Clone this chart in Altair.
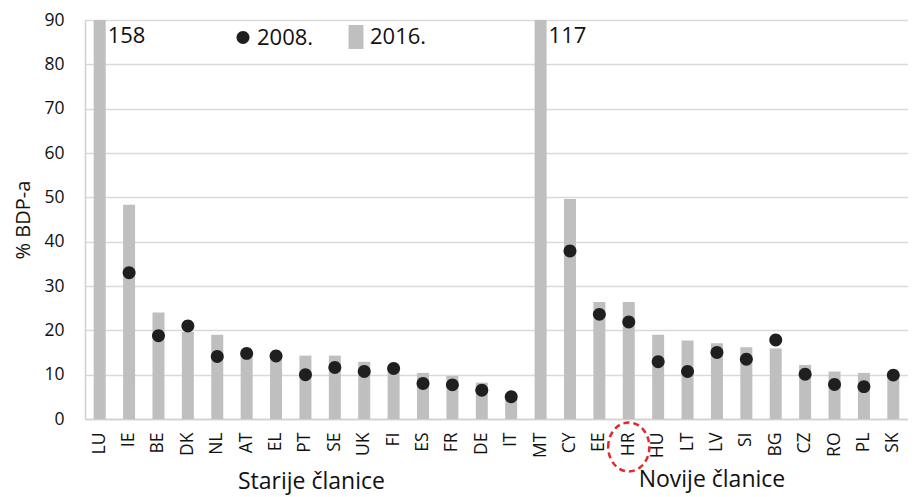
import altair as alt
import pandas as pd

countries = ["LU", "IE", "BE", "DK", "NL", "AT", "EL", "PT", "SE", "UK", "FI", "ES", "FR", "DE", "IT",
             "MT", "CY", "EE", "HR", "HU", "LT", "LV", "SI", "BG", "CZ", "RO", "PL", "SK"]
v2016 = [158, 48.3, 24.0, 19.7, 19.0, 14.5, 13.9, 14.3, 14.3, 12.9, 11.2, 10.4, 9.7, 8.2, 4.6,
         117, 49.6, 26.4, 26.4, 19.0, 17.7, 17.1, 16.2, 15.9, 12.2, 10.7, 10.4, 9.9]
v2008 = [None, 33.0, 18.8, 21.0, 14.1, 14.8, 14.2, 10.0, 11.6, 10.7, 11.4, 8.0, 7.7, 6.5, 5.0,
         None, 37.9, 23.6, 21.9, 12.9, 10.7, 15.0, 13.5, 17.8, 10.1, 7.8, 7.3, 9.9]
series = ["2008.", "2016."]
groups = ["Starije članice", "Novije članice"]
highlight = ["HR"]

FONT = "Open Sans"
CIRCLE = "M-0.54,0A0.54,0.54,0,1,0,0.54,0A0.54,0.54,0,1,0,-0.54,0Z"
RECT = "M-0.62,-1H0.62V1H-0.62Z"
ELLIPSE = "M-0.84,0A0.84,1,0,1,1,0.84,0A0.84,1,0,1,1,-0.84,0Z"

bars = pd.DataFrame({"country": countries, "v2016": v2016})
dots = pd.DataFrame({"country": countries, "v2008": v2008, "series": series[0]}).dropna()

xenc = alt.X("country:N", sort=countries, scale=alt.Scale(domain=countries, paddingInner=0.0, paddingOuter=0.0),
             axis=alt.Axis(title=None, labelAngle=-90, ticks=False, labelPadding=13, labelFont=FONT,
                           labelFontSize=17.5, labelColor="#111111", domainColor="#d0d0d0", domainWidth=1.5,
                           grid=False))
yscale = alt.Scale(domain=[0, 90], nice=False)

bar_layer = alt.Chart(bars).mark_bar(color="#bfbfbf", size=12, clip=True).encode(
    x=xenc,
    y=alt.Y("v2016:Q", scale=yscale,
            axis=alt.Axis(title="% BDP-a", values=list(range(0, 91, 10)), ticks=False, labelPadding=21,
                          labelFont=FONT, labelFontSize=17.5, labelColor="#111111", titleFont=FONT,
                          titleFontSize=20, titleFontWeight="normal", titleColor="#111111", titlePadding=10,
                          domainColor="#d0d0d0", domainWidth=1.5, gridColor="#d9d9d9", gridWidth=1.5)),
)

legend = alt.Legend(title=None, orient="none", legendX=146, legendY=5, direction="horizontal", columns=2,
                    symbolSize=576, labelFont=FONT, labelFontSize=22, labelColor="#111111",
                    symbolStrokeWidth=0, columnPadding=30, labelOffset=2, padding=0)

dot_layer = alt.Chart(dots).mark_point(filled=True, opacity=1, size=576).encode(
    x=alt.X("country:N", sort=countries),
    y=alt.Y("v2008:Q", scale=yscale),
    color=alt.Color("series:N", scale=alt.Scale(domain=series, range=["#1f1f1f", "#bfbfbf"]), legend=legend),
    shape=alt.Shape("series:N", scale=alt.Scale(domain=series, range=[CIRCLE, RECT]), legend=legend),
)

big = alt.Chart(bars).transform_filter("datum.v2016 > 90").mark_text(
    align="left", baseline="alphabetic", dx=8, font=FONT, fontSize=22, color="#111111"
).encode(
    x=alt.X("country:N", sort=countries),
    y=alt.value(23),
    text=alt.Text("v2016:Q", format="d"),
)

g1 = alt.Chart(pd.DataFrame({"country": ["PT"], "label": [groups[0]]})).mark_text(
    align="center", baseline="alphabetic", dx=6, font=FONT, fontSize=23, color="#111111"
).encode(x=alt.X("country:N", sort=countries), y=alt.value(469), text="label:N")

g2 = alt.Chart(pd.DataFrame({"country": ["LV"], "label": [groups[1]]})).mark_text(
    align="center", baseline="alphabetic", dx=-5, font=FONT, fontSize=23, color="#111111"
).encode(x=alt.X("country:N", sort=countries), y=alt.value(467), text="label:N")

ring = alt.Chart(pd.DataFrame({"country": highlight})).mark_point(
    shape=ELLIPSE, size=2401, filled=False, stroke="#e8262b", strokeWidth=2.5, strokeDash=[6, 4], opacity=1
).encode(x=alt.X("country:N", sort=countries), y=alt.value(427))

chart = alt.layer(bar_layer, dot_layer, big, g1, g2, ring).properties(
    width=823, height=399,
    autosize=alt.AutoSizeParams(type="none"),
    padding={"left": 77, "top": 12, "right": 0, "bottom": 78},
).configure_view(stroke=None).configure(background="white")

chart.save("out.html", embed_options={"renderer": "svg", "actions": False})
